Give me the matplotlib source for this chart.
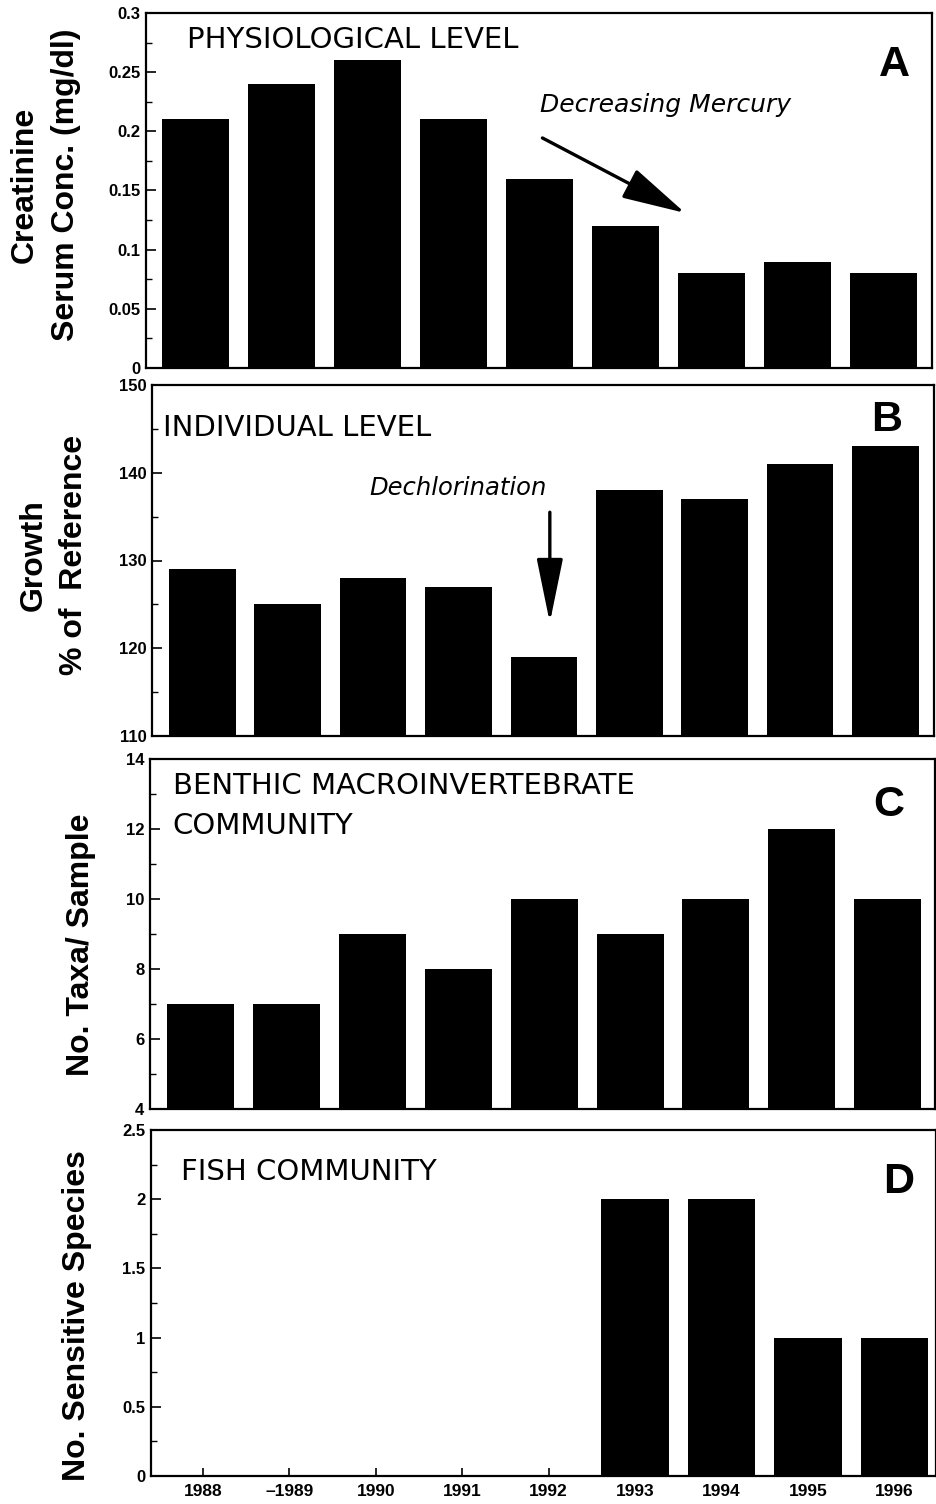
import matplotlib
matplotlib.use("Agg")
import matplotlib.pyplot as plt
from matplotlib.ticker import MultipleLocator, FixedLocator, FixedFormatter

years = ["1988", "–1989", "1990", "1991", "1992", "1993", "1994", "1995", "1996"]
creatinine = [0.21, 0.24, 0.26, 0.21, 0.16, 0.12, 0.08, 0.09, 0.08]
growth = [129, 125, 128, 127, 119, 138, 137, 141, 143]
taxa = [7, 7, 9, 8, 10, 9, 10, 12, 10]
fish = [0, 0, 0, 0, 0, 2, 2, 1, 1]

ylabels = ["Creatinine\nSerum Conc. (mg/dl)", "Growth\n% of  Reference",
           "No. Taxa/ Sample", "No. Sensitive Species"]
titles = ["PHYSIOLOGICAL LEVEL", "INDIVIDUAL LEVEL",
          "BENTHIC MACROINVERTEBRATE\nCOMMUNITY", "FISH COMMUNITY"]
letters = ["A", "B", "C", "D"]

W, H = 937, 1504
fig = plt.figure(figsize=(W / 100, H / 100), dpi=100)

# (left, bottom_px_from_top, right, top) in pixels
boxes = [(146, 368, 932, 13), (152, 736, 934, 385), (150, 1109, 935, 759), (151, 1476, 936, 1130)]
ylims = [(0, 0.3), (110, 150), (4, 14), (0, 2.5)]
major = [0.05, 10, 2, 0.5]
minor = [0.025, 5, 1, 0.25]
xlims = [(-0.58, 8.56), (-0.59, 8.57), (-0.59, 8.55), (-0.60, 8.48)]
series = [creatinine, growth, taxa, fish]
ylab_xy = [(-0.128, 0.515), (-0.125, 0.516), (-0.088, 0.469), (-0.094, 0.465)]
title_xy = [(0.052, 0.924), (0.014, 0.877), (0.029, 0.866), (0.038, 0.879)]
letter_xy = [(0.952, 0.853), (0.94, 0.90), (0.941, 0.869), (0.953, 0.85)]
tickfmt = [lambda v: ("%g" % v), lambda v: "%d" % v, lambda v: "%d" % v, lambda v: "%g" % v]

axes = []
x = list(range(len(years)))
for i in range(4):
    l, b, r, t = boxes[i]
    ax = fig.add_axes([l / W, (H - b) / H, (r - l) / W, (b - t) / H])
    axes.append(ax)
    ax.bar(x, series[i], width=0.78, color="black", edgecolor="black", linewidth=0)
    ax.set_xlim(*xlims[i])
    ax.set_ylim(*ylims[i])
    ax.yaxis.set_major_locator(MultipleLocator(major[i]))
    ax.yaxis.set_minor_locator(MultipleLocator(minor[i]))
    ticks = ax.get_yticks()
    ticks = [v for v in ticks if ylims[i][0] - 1e-9 <= v <= ylims[i][1] + 1e-9]
    ax.yaxis.set_major_locator(FixedLocator(ticks))
    ax.yaxis.set_major_formatter(FixedFormatter([tickfmt[i](round(v, 3)) for v in ticks]))
    ax.tick_params(axis="y", which="major", direction="in", length=7, width=1.2,
                   labelsize=12, pad=4)
    ax.tick_params(axis="y", which="minor", direction="in", length=4, width=1.0)
    ax.set_xticks(x)
    if i == 3:
        ax.set_xticklabels(years, fontsize=12.5, fontweight="bold", family="Liberation Sans")
        ax.tick_params(axis="x", direction="in", length=6, width=1.2, pad=6)
    else:
        ax.tick_params(axis="x", direction="in", length=6, width=1.2, labelbottom=False)
    for lab in ax.get_yticklabels():
        lab.set_fontweight("bold")
        lab.set_family("Liberation Sans")
    for sp in ax.spines.values():
        sp.set_linewidth(1.6)
    ax.set_ylabel(ylabels[i], fontsize=23, fontweight="bold", family="Liberation Sans",
                  va="center", ha="center", linespacing=1.45)
    ax.yaxis.set_label_coords(*ylab_xy[i])
    ax.text(title_xy[i][0], title_xy[i][1], titles[i], transform=ax.transAxes,
            fontsize=21, family="DejaVu Sans", ha="left", va="center", linespacing=1.55)
    ax.text(letter_xy[i][0], letter_xy[i][1], letters[i], transform=ax.transAxes,
            fontsize=31, fontweight="bold", family="Liberation Sans", ha="center", va="center")

# Panel annotations
axA, axB = axes[0], axes[1]
axA.text(4.0, 0.222, "Decreasing Mercury", fontsize=18, style="italic",
         family="DejaVu Sans", ha="left", va="center")
axA.annotate("", xy=(5.69, 0.131), xytext=(4.03, 0.1944),
             arrowprops=dict(arrowstyle="-|>,head_length=2.2,head_width=0.55",
                             mutation_scale=18, color="black", lw=2.4,
                             shrinkA=0, shrinkB=0))
axB.text(3.0, 138.3, "Dechlorination", fontsize=17.5, style="italic",
         family="DejaVu Sans", ha="center", va="center")
axB.annotate("", xy=(4.07, 122.9), xytext=(4.07, 135.5),
             arrowprops=dict(arrowstyle="-|>,head_length=2.2,head_width=0.45",
                             mutation_scale=18, color="black", lw=2.4,
                             shrinkA=0, shrinkB=0))

fig.savefig("out.png", dpi=100)
